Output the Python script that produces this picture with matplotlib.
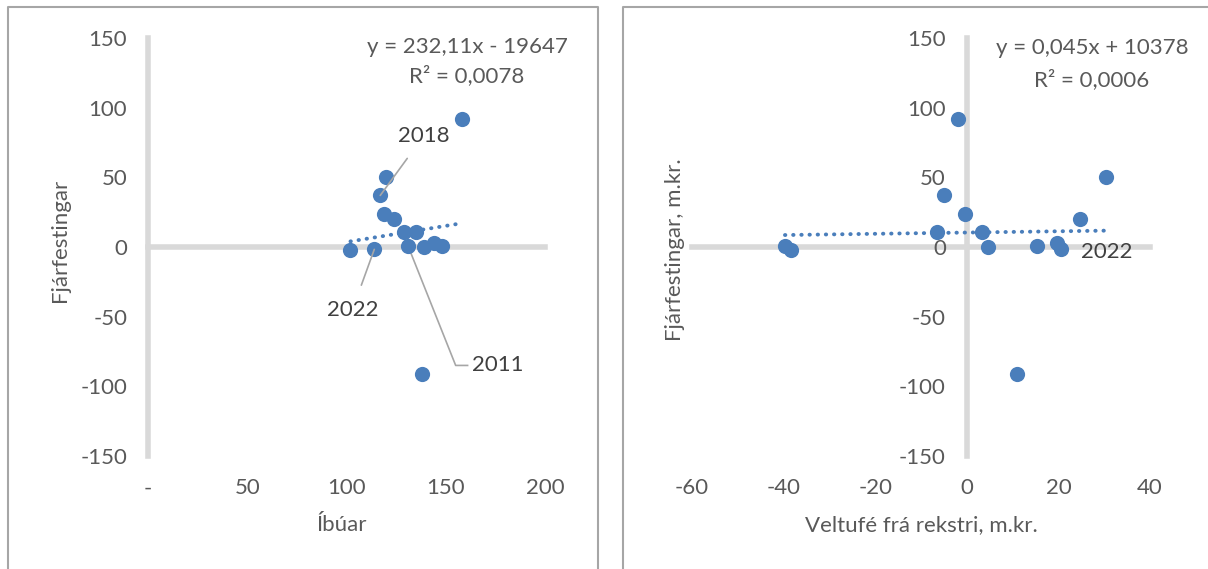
import numpy as np
import matplotlib
matplotlib.use("Agg")
import matplotlib.pyplot as plt
from matplotlib.lines import Line2D

plt.rcParams['font.family'] = ['Lato', 'DejaVu Sans']
plt.rcParams['axes.unicode_minus'] = False

# gögn (lesin af myndinni), m.kr.
fjarfesting = [92, 50, 37, 24, 20, 10.5, 10.5, -2, -1.7, 0.8, 0.1, 2.9, 0.8, -91]
ibuar = [158, 120, 117, 119, 124, 135, 129, 102, 114, 131, 139, 144, 148, 138]
veltufe = [-2.0, 30.5, -4.9, -0.4, 24.7, -6.6, 3.3, -38.4, 20.5, -39.7, 4.7, 19.6, 15.3, 10.9]
ar = ['', '', '2018', '', '', '', '', '', '2022', '2011', '', '', '', '']

# leitnilínur (úr jöfnunum, í m.kr.)
trend_vinstri = (0.23211, -19.647)
trend_haegri = (0.045, 10.378)
jafna_vinstri = ['y = 232,11x - 19647', 'R² = 0,0078']
jafna_haegri = ['y = 0,045x + 10378', 'R² = 0,0006']

y_ticks = [150, 100, 50, 0, -50, -100, -150]
x_ticks_vinstri = [0, 50, 100, 150, 200]
x_labels_vinstri = ['-', '50', '100', '150', '200']
x_ticks_haegri = [-60, -40, -20, 0, 20, 40]

W, H = 1208, 569
blue = '#4a7ebb'
axis_gray = '#d9d9d9'
txt = '#595959'
fs = 16


def fx(px):
    return px / W


def fy(py):
    return 1 - py / H


fig = plt.figure(figsize=(W / 100, H / 100), dpi=100)

# rammar utan um myndirnar
for xs, ys in [([8, 8, 598, 598], [H + 5, 7, 7, H + 5]),
               ([623, 623, W + 5], [H + 5, 7, 7])]:
    fig.add_artist(Line2D([fx(v) for v in xs], [fy(v) for v in ys],
                          color='#a6a6a6', lw=1.5))


def setup(ax, xlim, xticks, xlabels):
    ax.set_xlim(*xlim)
    ax.set_ylim(-150, 150)
    for s in ax.spines.values():
        s.set_visible(False)
    ax.set_xticks(xticks)
    ax.set_xticklabels(xlabels)
    ax.set_yticks(y_ticks)
    ax.set_yticklabels([str(v) for v in y_ticks])
    ax.tick_params(axis='y', length=0, pad=15, labelsize=fs, labelcolor=txt)
    ax.tick_params(axis='x', length=0, pad=16, labelsize=fs, labelcolor=txt)
    ax.axhline(0, color=axis_gray, lw=4, zorder=1, clip_on=False)
    ax.axvline(0, color=axis_gray, lw=4, zorder=1, clip_on=False)
    ax.patch.set_alpha(0)


# vinstri: íbúar
ax1 = fig.add_axes([fx(148), fy(456), fx(545 - 148), (456 - 38) / H])
setup(ax1, (0, 200), x_ticks_vinstri, x_labels_vinstri)
ax1.scatter(ibuar, fjarfesting, s=120, color=blue, zorder=3, linewidths=0)
xx = np.array([min(ibuar), max(ibuar)])
ax1.plot(xx, trend_vinstri[0] * xx + trend_vinstri[1], color=blue, lw=2.8,
         linestyle=(0, (0.1, 2.0)), dash_capstyle='round', zorder=2)

i18 = ar.index('2018')
ax1.annotate('2018', xy=(ibuar[i18], fjarfesting[i18]), xytext=(139, 80),
             fontsize=fs, color='#404040', ha='center', va='center',
             arrowprops=dict(arrowstyle='-', color='#a6a6a6', lw=1.2,
                             shrinkA=9, shrinkB=0))
i22 = ar.index('2022')
ax1.annotate('2022', xy=(ibuar[i22], fjarfesting[i22]), xytext=(103, -45),
             fontsize=fs, color='#404040', ha='center', va='center',
             arrowprops=dict(arrowstyle='-', color='#a6a6a6', lw=1.2,
                             shrinkA=9, shrinkB=0))
i11 = ar.index('2011')
ax1.plot([ibuar[i11], 155, 161], [fjarfesting[i11], -85, -85],
         color='#a6a6a6', lw=1.2, zorder=2)
ax1.text(163, -85, '2011', fontsize=fs, color='#404040', ha='left', va='center')

fig.text(fx(467), fy(47), jafna_vinstri[0], fontsize=fs, color=txt,
         ha='center', va='center')
fig.text(fx(467), fy(76), jafna_vinstri[1], fontsize=fs, color=txt,
         ha='center', va='center')
fig.text(fx(60), fy(240), 'Fjárfestingar', fontsize=fs, color=txt,
         rotation=90, ha='center', va='center')
fig.text(fx(342), fy(525), 'Íbúar', fontsize=fs, color=txt,
         ha='center', va='center')

# hægri: veltufé frá rekstri
ax2 = fig.add_axes([fx(692), fy(456), fx(1150 - 692), (456 - 38) / H])
setup(ax2, (-60, 40), x_ticks_haegri, [str(v) for v in x_ticks_haegri])
ax2.spines['left'].set_position(('data', 0))
ax2.scatter(veltufe, fjarfesting, s=120, color=blue, zorder=3, linewidths=0)
xx = np.array([min(veltufe), max(veltufe)])
ax2.plot(xx, trend_haegri[0] * xx + trend_haegri[1], color=blue, lw=2.8,
         linestyle=(0, (0.1, 2.0)), dash_capstyle='round', zorder=2)
ax2.text(veltufe[i22] + 10, fjarfesting[i22] - 2, '2022', fontsize=fs,
         color='#404040', ha='center', va='center')

fig.text(fx(1092), fy(48), jafna_haegri[0], fontsize=fs, color=txt,
         ha='center', va='center')
fig.text(fx(1092), fy(80), jafna_haegri[1], fontsize=fs, color=txt,
         ha='center', va='center')
fig.text(fx(675), fy(250), 'Fjárfestingar, m.kr.', fontsize=fs, color=txt,
         rotation=90, ha='center', va='center')
fig.text(fx(921), fy(525), 'Veltufé frá rekstri, m.kr.', fontsize=fs,
         color=txt, ha='center', va='center')

fig.savefig('out.png', dpi=100)
